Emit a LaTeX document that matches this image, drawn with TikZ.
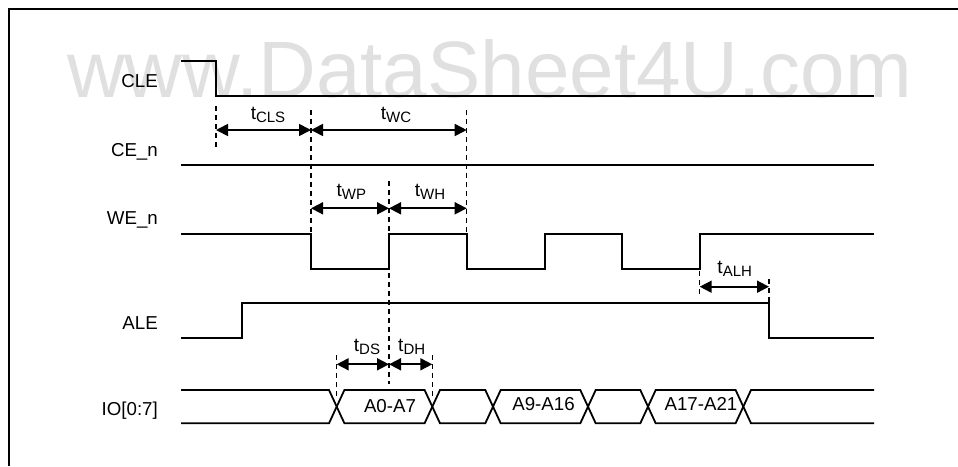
\documentclass[tikz,border=0pt]{standalone}
\usepackage{fontspec}
\setmainfont{Liberation Sans}
\usetikzlibrary{arrows.meta}
\definecolor{wmgray}{RGB}{224,224,224}
\newcommand{\tsub}[1]{t\raisebox{-3pt}{\fontsize{15}{15}\selectfont #1}}
\begin{document}
\begin{tikzpicture}[x=1pt,y=-1pt,
  sig/.style={line width=1.8pt, line join=miter},
  guide/.style={line width=1.3pt, dash pattern=on 4.5pt off 4.5pt},
  dim/.style={line width=1.7pt, {Triangle[length=12pt,width=12pt]}-{Triangle[length=12pt,width=12pt]}},
  signame/.style={anchor=base east, font=\fontsize{18.7}{20}\selectfont, inner sep=0pt},
  tlab/.style={anchor=base, font=\fontsize{19}{20}\selectfont, inner sep=0pt},
  buslab/.style={anchor=base, font=\fontsize{18.7}{20}\selectfont, inner sep=0pt}]
\useasboundingbox (0,0) rectangle (958,466);
% watermark
\node[anchor=base west, inner sep=0pt, text=wmgray, font=\fontsize{80}{80}\selectfont] (wm) at (67,97) {www.DataSheet4U.com};
% frame
\draw[line width=2.2pt] (9,466) -- (9,9) -- (958,9);
% signal names
\node[signame] (nCLE) at (158,87) {CLE};
\node[signame] (nCE) at (158,156.5) {CE\_n};
\node[signame] (nWE) at (158,224) {WE\_n};
\node[signame] (nALE) at (158,329) {ALE};
\node[signame] (nIO) at (158,415) {IO[0:7]};
% waveforms
\draw[sig] (181,61) -- (216,61) -- (216,96) -- (874,96);
\draw[sig] (181,164.7) -- (874,164.7);
\draw[sig] (181,234) -- (311,234) -- (311,269) -- (389,269) -- (389,234) -- (466.7,234) -- (466.7,269)
  -- (544.7,269) -- (544.7,234) -- (622,234) -- (622,269) -- (699.7,269) -- (699.7,234) -- (874,234);
\draw[sig] (181,337.7) -- (242,337.7) -- (242,302.7) -- (769,302.7) -- (769,337.7) -- (874,337.7);
% bus
\def\h{7.7}
\draw[sig] (181,390) -- ({336.7-\h},390) -- ({336.7+\h},423.3) -- ({432.3-\h},423.3) -- ({432.3+\h},390)
  -- ({493-\h},390) -- ({493+\h},423.3) -- ({588-\h},423.3) -- ({588+\h},390) -- ({648-\h},390)
  -- ({648+\h},423.3) -- ({743.3-\h},423.3) -- ({743.3+\h},390) -- (874,390);
\draw[sig] (181,423.3) -- ({336.7-\h},423.3) -- ({336.7+\h},390) -- ({432.3-\h},390) -- ({432.3+\h},423.3)
  -- ({493-\h},423.3) -- ({493+\h},390) -- ({588-\h},390) -- ({588+\h},423.3) -- ({648-\h},423.3)
  -- ({648+\h},390) -- ({743.3-\h},390) -- ({743.3+\h},423.3) -- (874,423.3);
\node[buslab] (bA) at (390,412.7) {A0-A7};
\node[buslab] (bB) at (543.5,410.5) {A9-A16};
\node[buslab] (bC) at (701,410.5) {A17-A21};
% guide lines
\coordinate (g1t) at (216,106); \coordinate (g1b) at (216,148);
\coordinate (g2t) at (311,110); \coordinate (g2b) at (311,234);
\coordinate (g3t) at (466.7,110); \coordinate (g3b) at (466.7,234);
\coordinate (g4t) at (389,181); \coordinate (g4b) at (389,234);
\coordinate (g5t) at (389,273); \coordinate (g5b) at (389,384);
\coordinate (g6t) at (336.7,355); \coordinate (g6b) at (336.7,397);
\coordinate (g7t) at (432.3,355); \coordinate (g7b) at (432.3,397);
\coordinate (g8t) at (699.7,271); \coordinate (g8b) at (699.7,296);
\coordinate (g9t) at (769,279); \coordinate (g9b) at (769,302.7);
\foreach \g in {1,...,9} {\draw[guide] (g\g t) -- (g\g b);}
% dimension arrows
\coordinate (aCLS1) at (216,130); \coordinate (aCLS2) at (311,130); \coordinate (aWC2) at (466.7,130);
\coordinate (aWP1) at (311,208.3); \coordinate (aWP2) at (389,208.3); \coordinate (aWH2) at (466.7,208.3);
\coordinate (aDS1) at (336.7,364.3); \coordinate (aDS2) at (389,364.3); \coordinate (aDH2) at (432.3,364.3);
\coordinate (aALH1) at (699.7,286.7); \coordinate (aALH2) at (769,286.7);
\draw[dim] (aCLS1) -- (aCLS2);
\draw[dim] (aCLS2) -- (aWC2);
\draw[dim] (aWP1) -- (aWP2);
\draw[dim] (aWP2) -- (aWH2);
\draw[dim] (aDS1) -- (aDS2);
\draw[dim] (aDS2) -- (aDH2);
\draw[dim] (aALH1) -- (aALH2);
% timing labels
\node[tlab] (lCLS) at (268,119) {\tsub{CLS}};
\node[tlab] (lWC) at (396,119) {\tsub{WC}};
\node[tlab] (lWP) at (351.3,196) {\tsub{WP}};
\node[tlab] (lWH) at (430,196) {\tsub{WH}};
\node[tlab] (lDS) at (367,351) {\tsub{DS}};
\node[tlab] (lDH) at (411.7,351) {\tsub{DH}};
\node[tlab] (lALH) at (734.7,273) {\tsub{ALH}};
\end{tikzpicture}
\end{document}
